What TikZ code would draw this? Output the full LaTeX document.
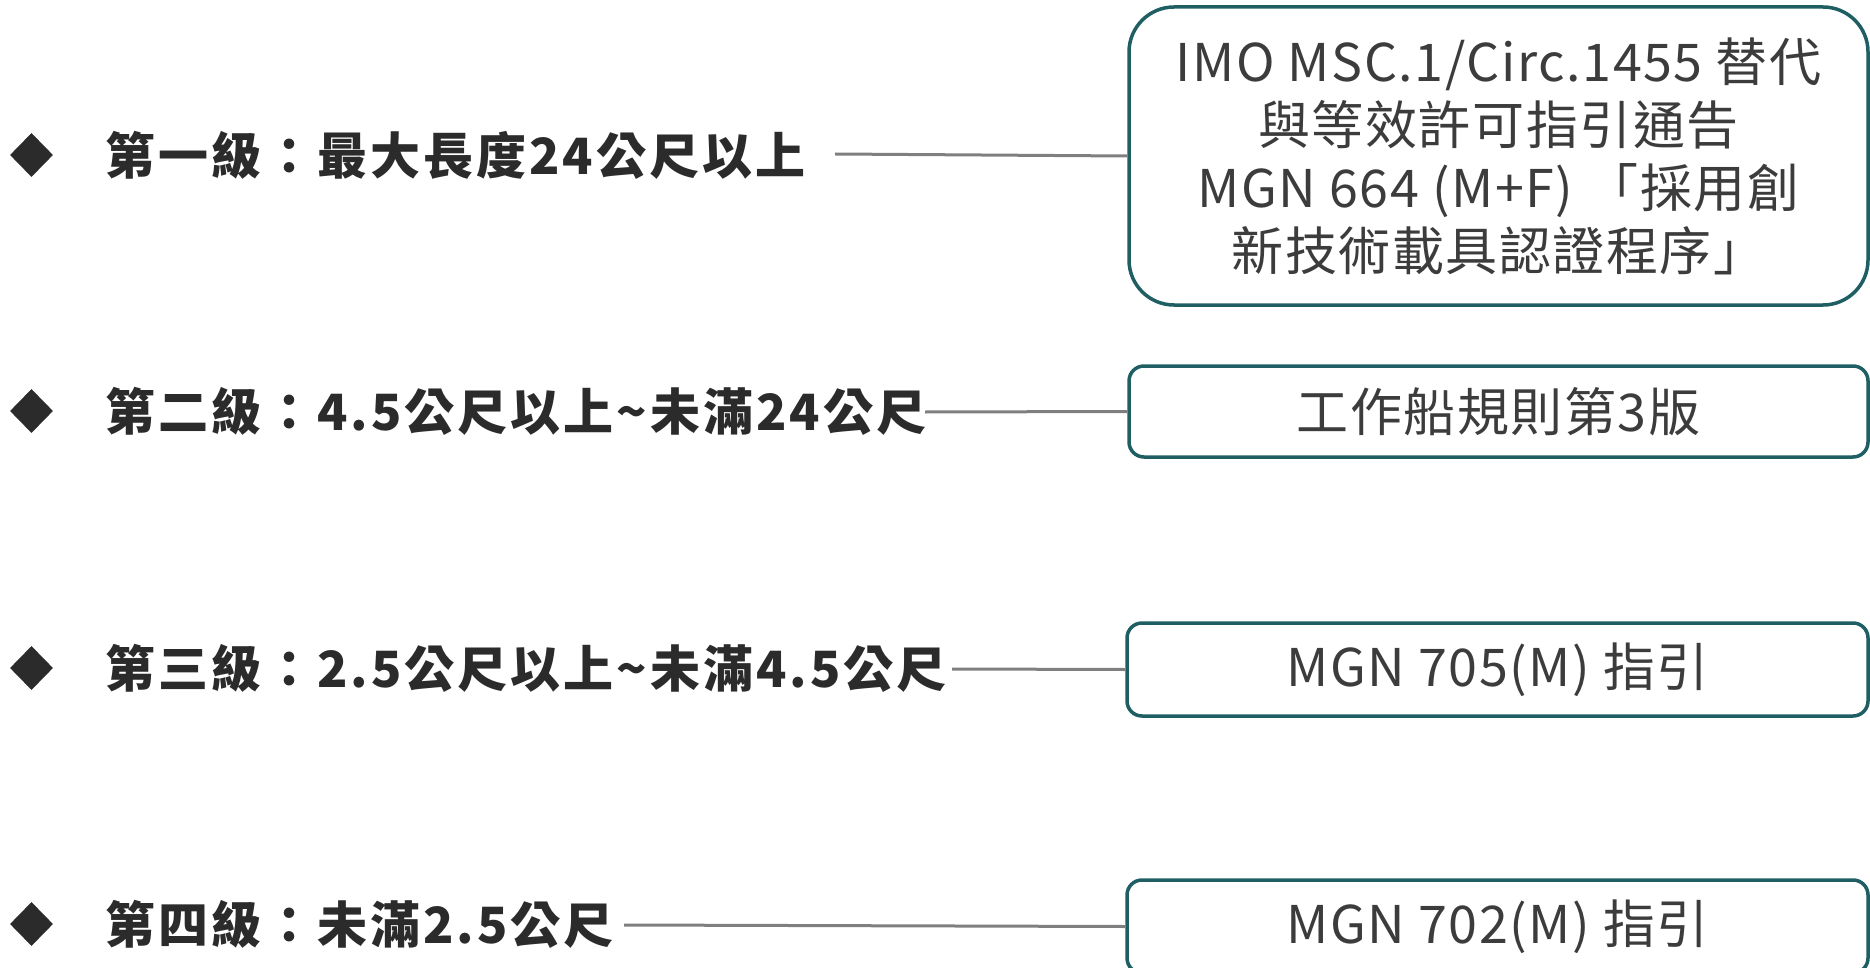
\documentclass[tikz,border=0pt]{standalone}
\usepackage{fontspec}
\setmainfont{Noto Sans CJK TC}
\usetikzlibrary{shapes.geometric}
\definecolor{tealb}{HTML}{1F5F63}
\definecolor{lbl}{HTML}{2B2B2B}
\definecolor{btx}{HTML}{3C3C3C}
\definecolor{connc}{HTML}{7F7F7F}
\begin{document}
\begin{tikzpicture}[x=1pt,y=-1pt,
  lab/.style={anchor=west, inner sep=0pt, font=\fontsize{50}{60}\selectfont\bfseries\addfontfeature{LetterSpace=6}, text=lbl},
  dia/.style={diamond, fill=lbl, inner sep=0pt, minimum width=43pt, minimum height=44pt},
  bx/.style={draw=tealb, line width=3.5pt, fill=white, inner sep=0pt, align=center,
    font=\fontsize{52}{63}\selectfont\addfontfeature{LetterSpace=3}, text=btx},
  conn/.style={draw=connc, line width=3pt}
]
\useasboundingbox (0,0) rectangle (1870,968);

% diamonds
\node[dia] (d1) at (31.5,155) {};
\node[dia] (d2) at (31.5,411) {};
\node[dia] (d3) at (31.5,668) {};
\node[dia] (d4) at (31.5,924) {};

% labels
\node[lab] (l1) at (105,155) {第一級：最大長度24公尺以上};
\node[lab] (l2) at (105,411) {第二級：4.5公尺以上\textasciitilde 未滿24公尺};
\node[lab] (l3) at (105,668) {第三級：2.5公尺以上\textasciitilde 未滿4.5公尺};
\node[lab] (l4) at (105,924) {第四級：未滿2.5公尺};

% boxes
\node[bx, rounded corners=45pt, minimum width=739pt, minimum height=298pt] (b1) at (1498.5,156)
  {IMO MSC.1/Circ.1455 替代\\與等效許可指引通告\\MGN 664 (M+F) 「採用創\\新技術載具認證程序」};
\node[bx, rounded corners=15pt, minimum width=739pt, minimum height=91pt] (b2) at (1498.5,411.5)
  {工作船規則第3版};
\node[bx, rounded corners=15pt, minimum width=741pt, minimum height=93pt] (b3) at (1497.5,669.5)
  {MGN 705(M) 指引};
\node[bx, rounded corners=15pt, minimum width=741pt, minimum height=93pt] (b4) at (1497.5,926.5)
  {MGN 702(M) 指引};

% connector start points
\coordinate (c1) at (835,154);
\coordinate (c2) at (925,412);
\coordinate (c3) at (952,669);
\coordinate (c4) at (624,925);

\draw[conn] (c1) -- (b1.west);
\draw[conn] (c2) -- (b2.west);
\draw[conn] (c3) -- (b3.west);
\draw[conn] (c4) -- (b4.west);
\end{tikzpicture}
\end{document}
